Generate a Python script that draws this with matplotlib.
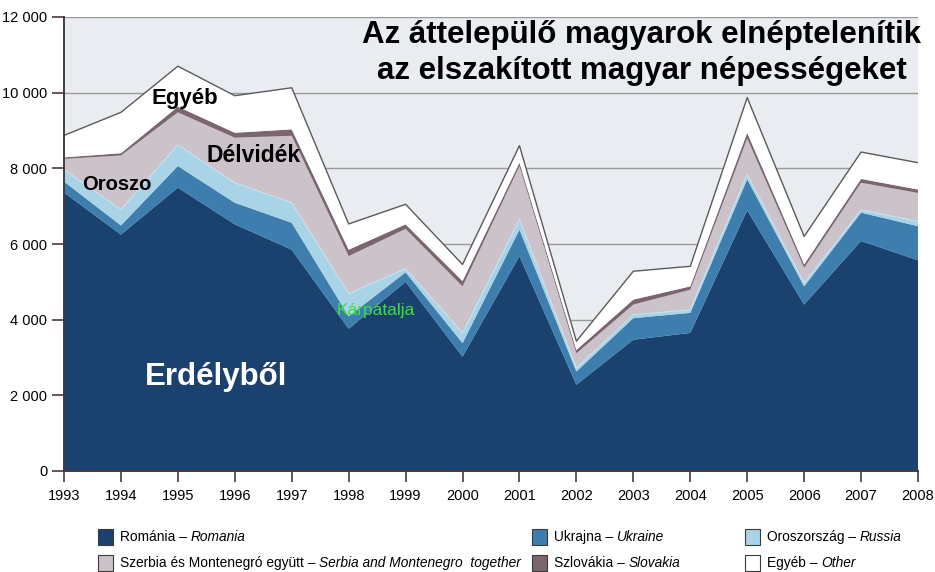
import matplotlib
matplotlib.use("Agg")
import matplotlib.pyplot as plt
from matplotlib.patches import Rectangle
import numpy as np

years = list(range(1993, 2009))
romania = [7360, 6250, 7490, 6520, 5850, 3760, 5000, 3020, 5680, 2280, 3470, 3650, 6890, 4400, 6080, 5570]
ukraine = [290, 240, 570, 570, 710, 330, 250, 360, 700, 350, 570, 530, 820, 480, 750, 900]
russia = [320, 420, 560, 530, 530, 600, 100, 270, 270, 90, 90, 80, 130, 90, 70, 130]
serbia = [280, 1430, 860, 1190, 1770, 990, 1050, 1230, 1410, 390, 270, 530, 950, 400, 720, 750]
slovakia = [40, 60, 150, 130, 170, 170, 120, 140, 90, 90, 130, 90, 150, 90, 100, 90]
other = [580, 1080, 1070, 980, 1100, 680, 530, 440, 450, 230, 750, 530, 930, 740, 710, 710]

series_names = [
    ("Románia – ", "Romania"),
    ("Ukrajna – ", "Ukraine"),
    ("Oroszország – ", "Russia"),
    ("Szerbia és Montenegró együtt – ", "Serbia and Montenegro  together"),
    ("Szlovákia – ", "Slovakia"),
    ("Egyéb – ", "Other"),
]
colors = ["#1b426f", "#3e7eae", "#a9d3e6", "#cbc2ca", "#7b6670", "#ffffff"]

title = "Az áttelepülő magyarok elnéptelenítik\naz elszakított magyar népességeket"

narrow = ["Liberation Sans Narrow", "Liberation Sans", "DejaVu Sans"]
sans = ["Liberation Sans", "DejaVu Sans"]

W, H = 935, 572
fig = plt.figure(figsize=(W / 100, H / 100), dpi=100)
fig.patch.set_facecolor("white")
ax = fig.add_axes([64 / W, 1 - 471 / H, 854 / W, 454 / H])
ax.set_facecolor("#e9ecf1")

data = [romania, ukraine, russia, serbia, slovakia, other]
ax.stackplot(years, *data, colors=colors, linewidth=0)
cum = np.cumsum(np.array(data), axis=0)
ax.plot(years, cum[5], color="#5a5a5a", lw=1.0)
ax.plot(years, cum[2], color="#c4e4f2", lw=0.8)

ax.set_xlim(1993, 2008)
ax.set_ylim(0, 12000)
ax.set_yticks(range(0, 12001, 2000))
ax.set_yticklabels(["0", "2 000", "4 000", "6 000", "8 000", "10 000", "12 000"],
                   fontfamily=narrow, fontsize=10.5)
ax.set_xticks(years)
ax.set_xticklabels([str(y) for y in years], fontfamily=narrow, fontsize=10.5)
ax.tick_params(axis="y", length=9, width=1.2, color="#4a3a3a", pad=3)
ax.tick_params(axis="x", length=8, width=1.2, color="#4a3a3a", pad=5)
for y in range(2000, 12001, 2000):
    ax.axhline(y, color="#9a9a9a", lw=1.0, zorder=0.5)
ax.set_axisbelow(True)
for s in ["top", "right"]:
    ax.spines[s].set_visible(False)
for s in ["left", "bottom"]:
    ax.spines[s].set_color("#4a3a3a")
    ax.spines[s].set_linewidth(1.4)

# title
fig.text(642 / W, 1 - 53 / H, title, ha="center", va="center", fontsize=22.5,
         fontweight="bold", fontfamily=sans, linespacing=1.22)

# annotations (data coordinates)
ax.text(1993.92, 7560, "Oroszo", fontsize=14.5, fontweight="bold", fontfamily=sans,
        ha="center", va="center", color="black")
ax.text(1995.12, 9850, "Egyéb", fontsize=16, fontweight="bold", fontfamily=sans,
        ha="center", va="center")
ax.text(1996.33, 8350, "Délvidék", fontsize=16.5, fontweight="bold", fontfamily=sans,
        ha="center", va="center")
ax.text(1998.48, 4250, "Kárpátalja", fontsize=12.5, fontfamily=sans, ha="center",
        va="center", color="#3be03b")
ax.text(1995.67, 2480, "Erdélyből", fontsize=22.5, fontweight="bold", fontfamily=sans,
        ha="center", va="center", color="white")

# legend (manual, mixed regular/italic)
fig.canvas.draw()
renderer = fig.canvas.get_renderer()
positions = [(98, 537), (532, 537), (745, 537), (98, 563), (532, 563), (745, 563)]
for (px, py), (reg, ital), col in zip(positions, series_names, colors):
    fig.patches.append(Rectangle((px / W, 1 - (py + 8) / H), 15 / W, 16 / H,
                                 transform=fig.transFigure, facecolor=col,
                                 edgecolor="#3a3a3a", lw=0.8))
    t1 = fig.text((px + 22) / W, 1 - py / H, reg, fontsize=9.9, fontfamily=narrow,
                  ha="left", va="center")
    bb = t1.get_window_extent(renderer)
    fig.text(bb.x1 / W, 1 - py / H, ital, fontsize=9.9, fontfamily=narrow,
             style="italic", ha="left", va="center")

fig.savefig("out.png", dpi=100)
